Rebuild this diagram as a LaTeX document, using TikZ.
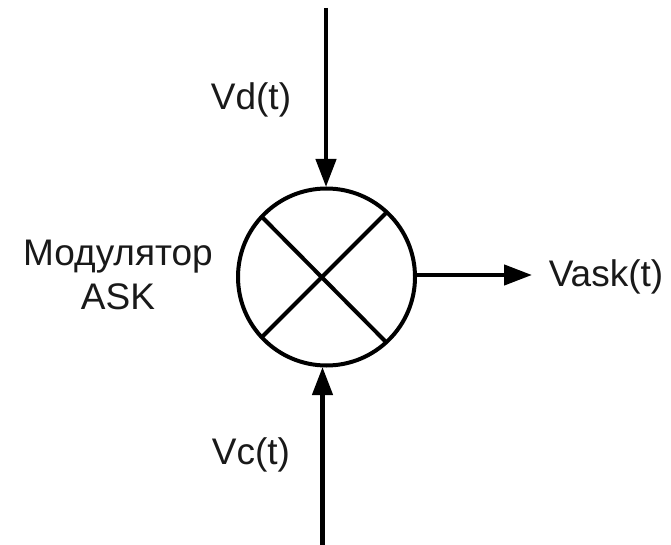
\documentclass[tikz,border=0pt]{standalone}
\usetikzlibrary{arrows.meta}
\usepackage{fontspec}
\setmainfont{Liberation Sans}
\begin{document}
\begin{tikzpicture}[x=1pt,y=-1pt,
 lab/.style={font=\fontsize{37}{44}\selectfont,text=black!90,inner sep=0pt,align=center},
 conn/.style={line width=4.4pt,-{Triangle[length=28pt,width=20pt]},shorten >=0pt},
 wire/.style={line width=4pt}]
\useasboundingbox (0,0) rectangle (671,545);
\node[circle,draw,line width=4pt,minimum size=177pt,inner sep=0pt] (m) at (326.5,277) {};
\coordinate (a1) at (262,217);
\coordinate (a2) at (386,342);
\coordinate (b1) at (386,213);
\coordinate (b2) at (262,337);
\draw[wire] (a1) -- (a2);
\draw[wire] (b1) -- (b2);
\coordinate (top) at (326,8);
\coordinate (bot) at (322.5,545);
\coordinate (rgt) at (532,275);
\coordinate (topend) at (326,187);
\coordinate (botend) at (322.5,367);
\coordinate (rgtstart) at (417,275);
\draw[conn] (top) -- (topend);
\draw[conn] (bot) -- (botend);
\draw[conn] (rgtstart) -- (rgt);
\node[lab] (vd) at (251,100) {Vd(t)};
\node[lab] (vc) at (251,455) {Vc(t)};
\node[lab] (va) at (606,277) {Vask(t)};
\node[lab] (mod) at (118,275) {Модулятор\\ASK};
\end{tikzpicture}
\end{document}
